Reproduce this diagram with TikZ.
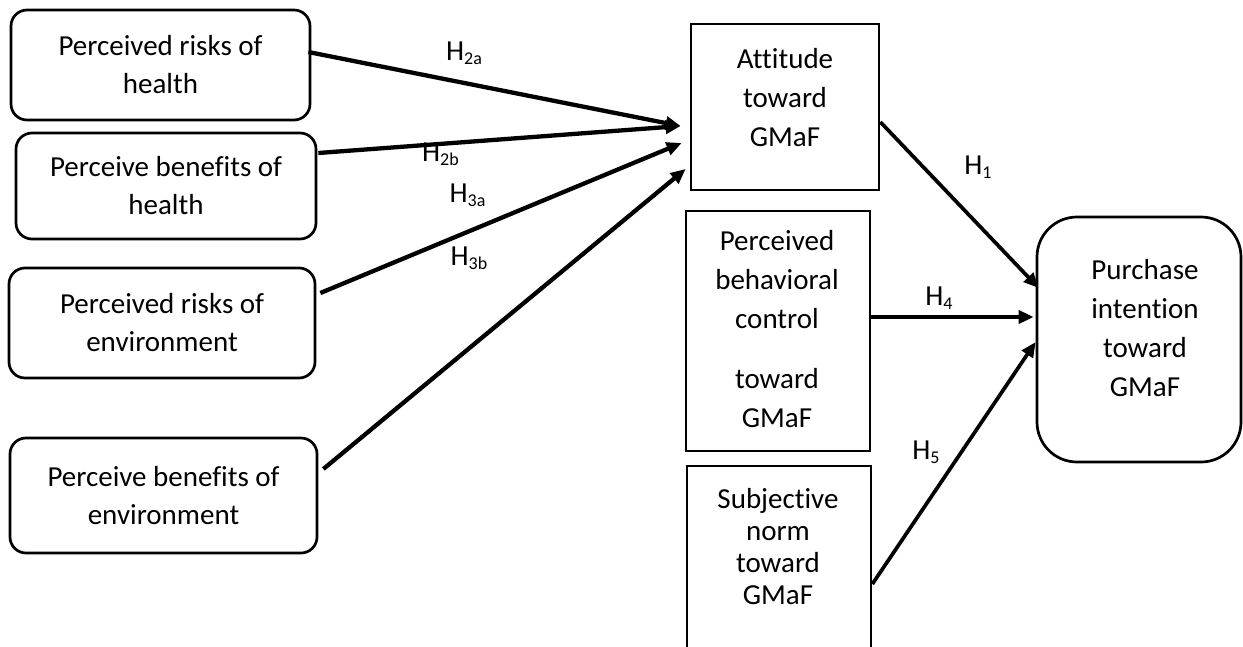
\documentclass[tikz,border=0pt]{standalone}
\usepackage{fontspec}
\setmainfont{Carlito}[Ligatures={NoCommon,NoContextual}]
\usetikzlibrary{arrows.meta,calc}
\newcommand{\hsub}[1]{H\raisebox{-4pt}{\fontsize{18}{18}\selectfont #1}}
\begin{document}
\begin{tikzpicture}[x=1pt,y=-1pt,
  lbox/.style={draw,line width=2.7pt,rounded corners=16pt,align=center,inner sep=0pt,font=\fontsize{29}{38}\selectfont},
  sbox/.style={draw,line width=2.7pt,inner sep=0pt},
  pbox/.style={draw,line width=2.7pt,inner sep=0pt,rounded corners=40pt},
  txt/.style={align=center,inner sep=0pt,font=\fontsize{29}{39}\selectfont},
  stxt/.style={align=center,inner sep=0pt,font=\fontsize{29}{32}\selectfont},
  conn/.style={line width=4.3pt,-{Triangle[length=15pt,width=13pt]}},
  rconn/.style={line width=3.7pt,-{Triangle[length=15pt,width=13pt]}},
  hlab/.style={inner sep=0pt,font=\fontsize{29}{32}\selectfont}]
\useasboundingbox (0,0) rectangle (1243,646);
\fill[white] (0,0) rectangle (1243,646);

% left boxes
\node[lbox,minimum width=299pt,minimum height=110pt] (rh) at (160.5,65) {Perceived risks of\\health};
\node[lbox,minimum width=300pt,minimum height=106pt] (bh) at (166,186) {Perceive benefits of\\health};
\node[lbox,minimum width=306pt,minimum height=110pt] (re) at (162,323) {Perceived risks of\\environment};
\node[lbox,minimum width=307pt,minimum height=115pt] (be) at (163.5,495.5) {Perceive benefits of\\environment};

% middle boxes
\node[sbox,minimum width=188pt,minimum height=166pt] (att) at (785,107) {};
\node[txt] (atttxt) at (785,98) {Attitude\\toward\\GMaF};
\node[sbox,minimum width=184pt,minimum height=240pt] (pbc) at (778,331) {};
\node[txt] (pbctxt) at (777,329) {Perceived\\behavioral\\control\\[21pt]toward\\GMaF};
\node[sbox,minimum width=184pt,minimum height=194pt] (sn) at (779,563) {};
\node[stxt] (sntxt) at (778,546.5) {Subjective\\norm\\toward\\GMaF};

% right box
\node[pbox,minimum width=204pt,minimum height=245pt] (pur) at (1139,339.5) {};
\node[txt] (purtxt) at (1145,328.5) {Purchase\\intention\\toward\\GMaF};

% connectors to attitude
\draw[conn] ($(rh.east)+(-3,-13)$) -- ($(att.west)+(-9,19)$);
\draw[conn] ($(bh.east)+(1,-33)$) -- ($(att.west)+(-9,19)$);
\draw[conn] ($(re.east)+(4,-30)$) -- ($(att.west)+(-8,36)$);
\draw[conn] ($(be.east)+(5,-26.5)$) -- ($(att.west)+(-4,62)$);

% connectors to purchase intention
\draw[rconn] ($(att.east)+(0,15)$) -- ($(pur.west)+(3,-51.5)$);
\draw[rconn] ($(pbc.east)+(0,-14)$) -- ($(pur.west)+(-2,-22.5)$);
\draw[rconn] ($(sn.east)+(0,21)$) -- ($(pur.west)+(0,2.5)$);

% labels
\node[hlab] (h2a) at (464,53) {\hsub{2a}};
\node[hlab] (h2b) at (440.5,154.5) {\hsub{2b}};
\node[hlab] (h3a) at (467.5,195) {\hsub{3a}};
\node[hlab] (h3b) at (469,258) {\hsub{3b}};
\node[hlab] (h1) at (978,167) {\hsub{1}};
\node[hlab] (h4) at (939,298) {\hsub{4}};
\node[hlab] (h5) at (926,452) {\hsub{5}};
\end{tikzpicture}
\end{document}
